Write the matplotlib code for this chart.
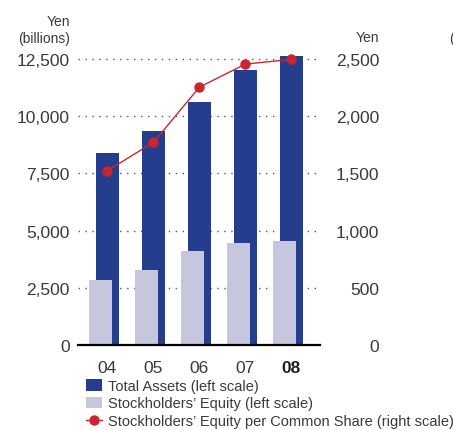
import numpy as np
import matplotlib
matplotlib.use("Agg")
import matplotlib.pyplot as plt
from matplotlib.patches import Patch
from matplotlib.lines import Line2D

plt.rcParams['font.family'] = ['Liberation Sans', 'DejaVu Sans']

years = ["04", "05", "06", "07", "08"]
total_assets = [8390, 9350, 10620, 12020, 12630]
equity = [2840, 3280, 4110, 4460, 4550]
equity_per_share = [1524, 1772, 2255, 2456, 2497]
left_ticks = [0, 2500, 5000, 7500, 10000, 12500]
right_ticks = [0, 500, 1000, 1500, 2000, 2500]

DARK = "#243d8c"
LIGHT = "#c6c6de"
RED = "#cb2530"
TXT = "#3a3a3a"

W, H = 453, 431
fig = plt.figure(figsize=(W / 100, H / 100), dpi=100)
ax = fig.add_axes([78 / W, 85 / H, 242 / W, 297.4 / H])

x = np.arange(len(years))
ax.bar(x, total_assets, width=0.5, color=DARK, zorder=2)
ax.bar(x - 0.155, equity, width=0.5, color=LIGHT, zorder=3)

ax.set_xlim(-0.641, 4.62)
ax.set_ylim(0, 13000)
ax.set_yticks(left_ticks)
ax.set_yticklabels([f"{v:,}" for v in left_ticks])
ax.set_axisbelow(True)
for v in left_ticks[1:]:
    ax.axhline(v, color="#555555", lw=1.0, ls=(0, (1, 4)), zorder=1)
ax.axhline(0, color="black", lw=1.6, zorder=4, clip_on=False)

for s in ax.spines.values():
    s.set_visible(False)
ax.tick_params(axis="y", length=0, pad=5.8, labelsize=12.5, labelcolor=TXT)
ax.set_xticks(x)
ax.set_xticklabels(years)
ax.tick_params(axis="x", length=0, pad=10.5, labelsize=12.5, labelcolor=TXT)
ax.get_xticklabels()[-1].set_fontweight("bold")
ax.get_xticklabels()[-1].set_color("#222222")

ax2 = ax.twinx()
ax2.set_ylim(0, 2600)
ax2.plot(x, equity_per_share, color=RED, lw=1.0, marker="o", ms=6.5, zorder=5)
ax2.set_yticks(right_ticks)
ax2.set_yticklabels([f"{v:,}" for v in right_ticks])
for s in ax2.spines.values():
    s.set_visible(False)
ax2.tick_params(axis="y", length=0, pad=42.5, labelsize=12.5, labelcolor=TXT)
for lbl in ax2.get_yticklabels():
    lbl.set_horizontalalignment("right")

fig.text(70 / W, 1 - 22.5 / H, "Yen", ha="right", va="center", fontsize=10, color=TXT)
fig.text(70 / W, 1 - 38.5 / H, "(billions)", ha="right", va="center", fontsize=10, color=TXT)
fig.text(379 / W, 1 - 38.5 / H, "Yen", ha="right", va="center", fontsize=10, color=TXT)
fig.text(449 / W, 1 - 38.5 / H, "(", ha="left", va="center", fontsize=10, color=TXT)

handles = [
    Patch(facecolor=DARK, edgecolor="none"),
    Patch(facecolor=LIGHT, edgecolor="none"),
    Line2D([0], [0], color=RED, lw=1.0, marker="o", ms=6.5),
]
labels = [
    "Total Assets (left scale)",
    "Stockholders\u2019 Equity (left scale)",
    "Stockholders\u2019 Equity per Common Share (right scale)",
]
leg = fig.legend(handles, labels, loc="upper left",
                 bbox_to_anchor=(86 / W, 1 - 380 / H), bbox_transform=fig.transFigure,
                 frameon=False, fontsize=10.5, handlelength=1.12, handleheight=0.8,
                 labelspacing=0.24, handletextpad=0.38, borderpad=0, borderaxespad=0)
for t in leg.get_texts():
    t.set_color(TXT)

fig.savefig("out.png", dpi=100)
